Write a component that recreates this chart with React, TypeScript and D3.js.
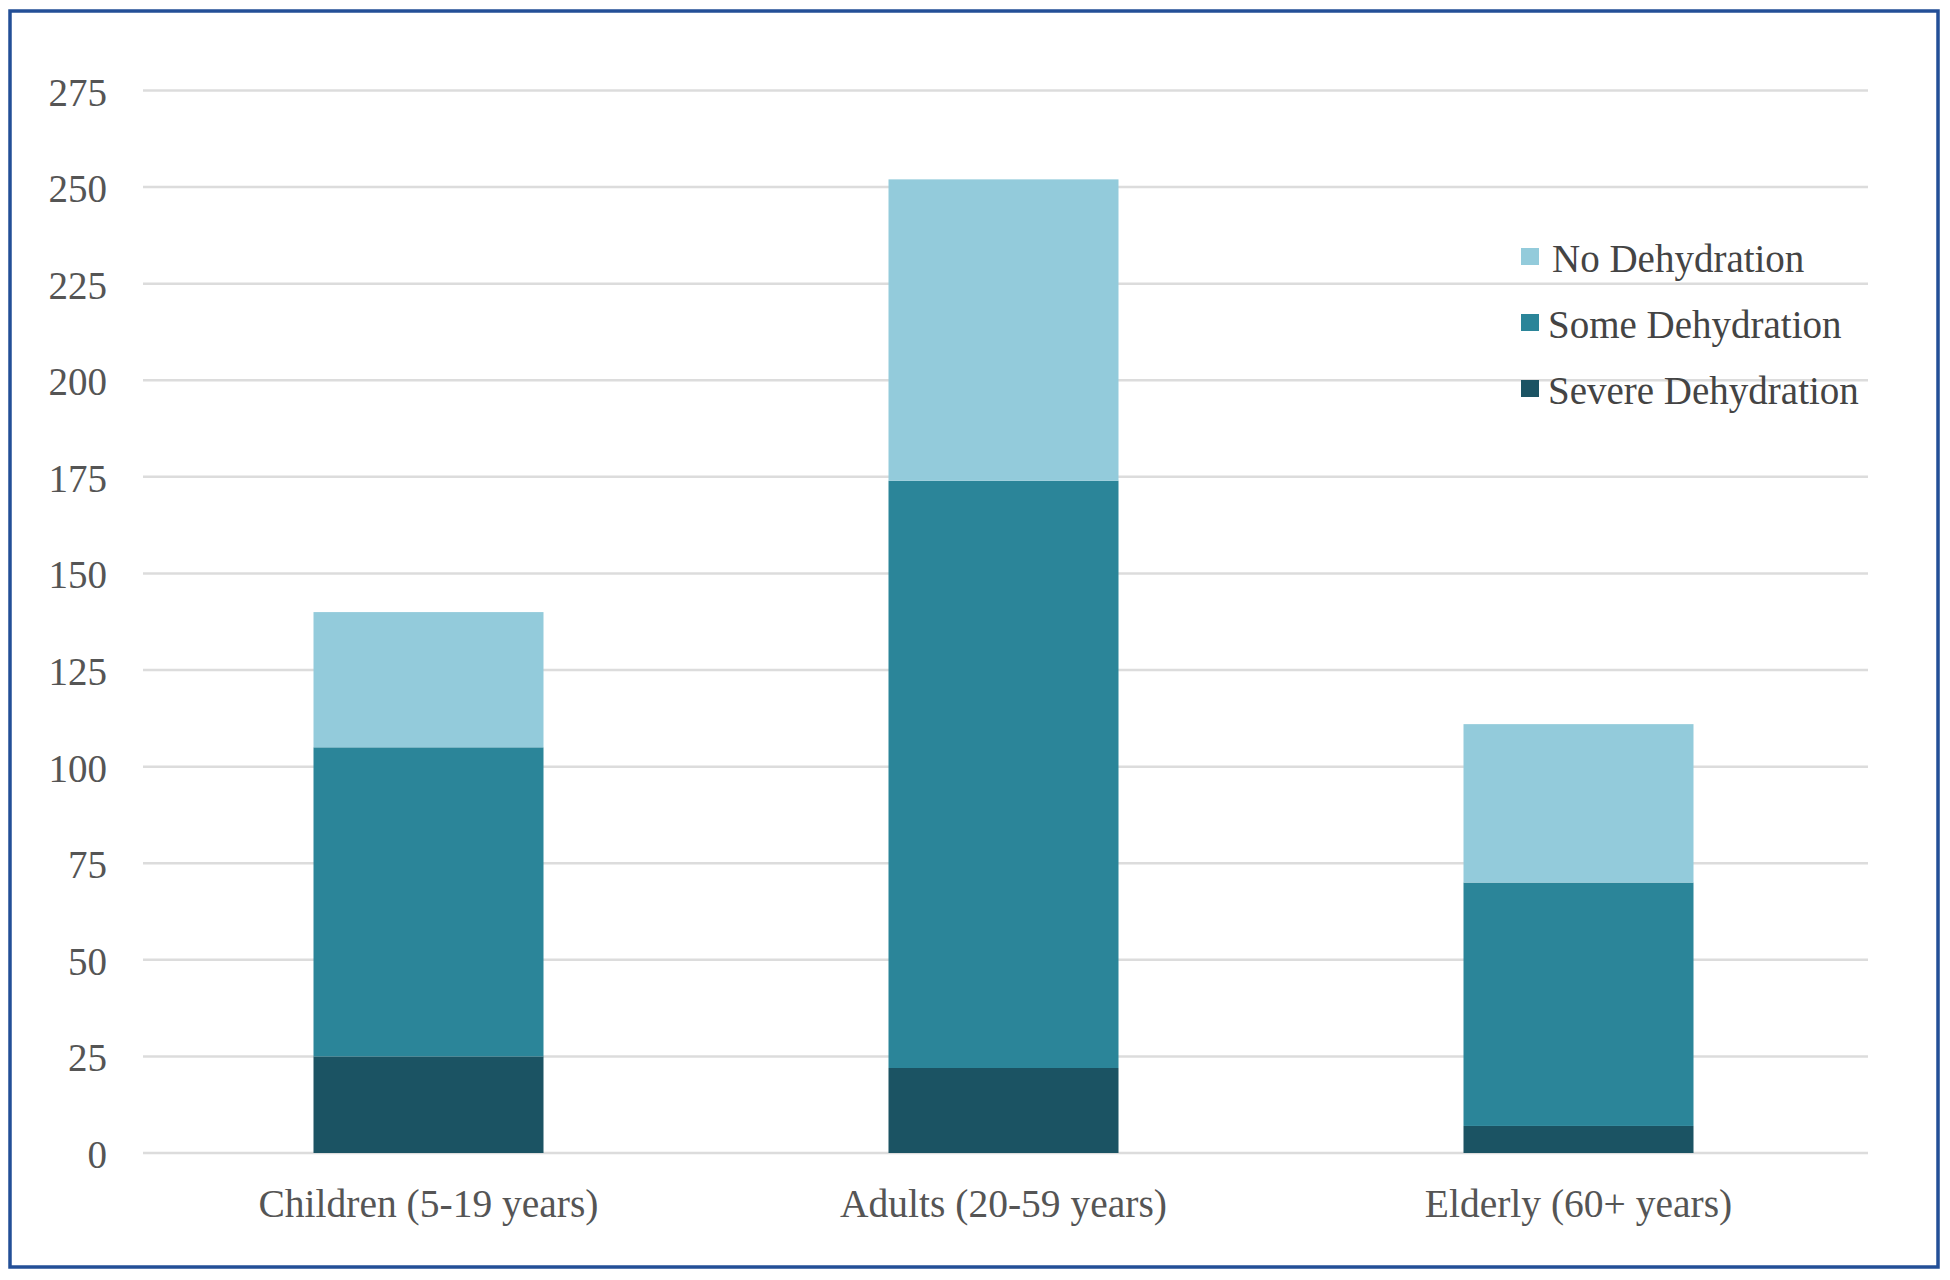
import React from "react";
import * as d3 from "d3";

const categories = ["Children (5-19 years)", "Adults (20-59 years)", "Elderly (60+ years)"];
const severeDehydration = [25, 22, 7];
const someDehydration = [80, 152, 63];
const noDehydration = [35, 78, 41];
const seriesNames = ["Severe Dehydration", "Some Dehydration", "No Dehydration"];
const seriesColors = ["#1b5363", "#2b8599", "#93cbdb"];
const yTicks = [0, 25, 50, 75, 100, 125, 150, 175, 200, 225, 250, 275];
const legendOrder = ["No Dehydration", "Some Dehydration", "Severe Dehydration"];

const W = 1950;
const H = 1280;
const FONT = "'Liberation Serif', 'Times New Roman', serif";

export default function App() {
  const x = d3
    .scaleBand<string>()
    .domain(categories)
    .range([141, 1866])
    .paddingInner(0.6)
    .paddingOuter(0.3);
  const y = d3.scaleLinear().domain([0, 275]).range([1153, 90.5]);

  const rows = categories.map((c, i) => ({
    cat: c,
    "Severe Dehydration": severeDehydration[i],
    "Some Dehydration": someDehydration[i],
    "No Dehydration": noDehydration[i],
  }));
  const stack = d3.stack<any>().keys(seriesNames)(rows);
  const color = d3.scaleOrdinal<string, string>().domain(seriesNames).range(seriesColors);

  return (
    <svg
      width={W}
      height={H}
      style={{ position: "absolute", left: 0, top: 0, background: "#fff" }}
      fontFamily={FONT}
    >
      <rect x={0} y={0} width={W} height={H} fill="#fff" />
      {yTicks.map((t) => (
        <g key={t}>
          <line x1={143} x2={1868} y1={y(t)} y2={y(t)} stroke="#dcdcdc" strokeWidth={2.5} />
          <text x={107} y={y(t) + 15} textAnchor="end" fontSize={39} fill="#555">
            {t}
          </text>
        </g>
      ))}
      {stack.map((s) => (
        <g key={s.key} fill={color(s.key)}>
          {s.map((d, i) => (
            <rect
              key={i}
              x={x(categories[i])}
              width={x.bandwidth()}
              y={y(d[1])}
              height={y(d[0]) - y(d[1])}
            />
          ))}
        </g>
      ))}
      {categories.map((c) => (
        <text
          key={c}
          x={(x(c) as number) + x.bandwidth() / 2}
          y={1217}
          textAnchor="middle"
          fontSize={39.5}
          fill="#555"
        >
          {c}
        </text>
      ))}
      {legendOrder.map((name, i) => (
        <g key={name} transform={`translate(1521, ${248 + i * 66})`}>
          <rect x={0} y={0} width={18} height={17} fill={color(name)} />
          <text x={i === 0 ? 31 : 27} y={24} fontSize={39} fill="#444">
            {name}
          </text>
        </g>
      ))}
      <rect
        x={10}
        y={11}
        width={1928}
        height={1256}
        fill="none"
        stroke="#234f97"
        strokeWidth={3.5}
      />
    </svg>
  );
}
